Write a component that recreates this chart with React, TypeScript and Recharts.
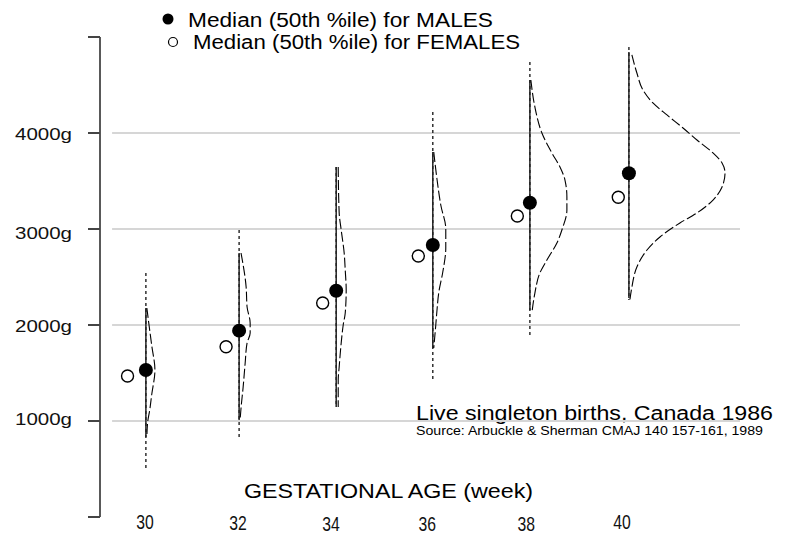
import React from 'react';
import { ComposedChart, Line, Scatter, XAxis, YAxis, ReferenceLine, Legend, Customized } from 'recharts';

// weeks as labelled, and where each week's marks actually sit on the axis
const WEEKS = [30, 32, 34, 36, 38, 40];
const WEEK_X = [30.0, 31.93, 33.94, 35.94, 37.95, 40.0];
const FEMALE_X = [29.62, 31.66, 33.66, 35.64, 37.69, 39.78];

const MALE_MEDIAN = [1531, 1941, 2357, 2833, 3274, 3580];
const FEMALE_MEDIAN = [1469, 1774, 2229, 2719, 3135, 3330];

// solid part of each vertical line, and the dotted full extent
const RANGE_LOW = [833, 1010, 1146, 1760, 2156, 2281];
const RANGE_HIGH = [2177, 2750, 3646, 3802, 4552, 4844];
const OUTER_LOW = [510, 833, 1146, 1406, 1875, 2260];
const OUTER_HIGH = [2542, 2990, 3646, 4219, 4740, 4896];

// birth weight distribution per week: g = weight, d = relative density (week 40 peak = 1)
const DENSITY_30 = [
  { g: 2177, d: 0.01 }, { g: 2021, d: 0.03 }, { g: 1792, d: 0.06 }, { g: 1531, d: 0.094 },
  { g: 1271, d: 0.06 }, { g: 1115, d: 0.04 }, { g: 1000, d: 0.02 }, { g: 833, d: 0.01 },
];
const DENSITY_32 = [
  { g: 2750, d: 0.02 }, { g: 2396, d: 0.073 }, { g: 2188, d: 0.083 }, { g: 2021, d: 0.115 },
  { g: 1917, d: 0.115 }, { g: 1813, d: 0.083 }, { g: 1604, d: 0.063 }, { g: 1354, d: 0.042 },
  { g: 1146, d: 0.021 }, { g: 1010, d: 0.01 },
];
const DENSITY_34 = [
  { g: 3646, d: 0.021 }, { g: 3167, d: 0.031 }, { g: 2990, d: 0.052 }, { g: 2750, d: 0.083 },
  { g: 2573, d: 0.094 }, { g: 2365, d: 0.104 }, { g: 2125, d: 0.094 }, { g: 2000, d: 0.073 },
  { g: 1813, d: 0.052 }, { g: 1563, d: 0.031 }, { g: 1427, d: 0.021 }, { g: 1146, d: 0.021 },
];
const DENSITY_36 = [
  { g: 3802, d: 0.01 }, { g: 3531, d: 0.042 }, { g: 3250, d: 0.083 }, { g: 3000, d: 0.135 },
  { g: 2802, d: 0.135 }, { g: 2552, d: 0.104 }, { g: 2344, d: 0.063 }, { g: 2135, d: 0.042 },
  { g: 2000, d: 0.031 }, { g: 1760, d: 0.01 },
];
const DENSITY_38 = [
  { g: 4552, d: 0.01 }, { g: 4271, d: 0.052 }, { g: 4000, d: 0.125 }, { g: 3792, d: 0.229 },
  { g: 3646, d: 0.313 }, { g: 3510, d: 0.365 }, { g: 3333, d: 0.385 }, { g: 3198, d: 0.385 },
  { g: 2990, d: 0.333 }, { g: 2854, d: 0.281 }, { g: 2677, d: 0.177 }, { g: 2542, d: 0.104 },
  { g: 2333, d: 0.052 }, { g: 2125, d: 0.021 },
];
const DENSITY_40 = [
  { g: 4813, d: 0.031 }, { g: 4625, d: 0.083 }, { g: 4448, d: 0.146 }, { g: 4313, d: 0.25 },
  { g: 4188, d: 0.396 }, { g: 4052, d: 0.563 }, { g: 3927, d: 0.708 }, { g: 3792, d: 0.875 },
  { g: 3688, d: 0.969 }, { g: 3583, d: 1 }, { g: 3438, d: 0.969 }, { g: 3302, d: 0.875 },
  { g: 3167, d: 0.708 }, { g: 3063, d: 0.531 }, { g: 2917, d: 0.323 }, { g: 2781, d: 0.188 },
  { g: 2604, d: 0.083 }, { g: 2396, d: 0.031 }, { g: 2260, d: 0.01 },
];
const DENSITIES = [DENSITY_30, DENSITY_32, DENSITY_34, DENSITY_36, DENSITY_38, DENSITY_40];

const Y_TICKS = [0, 1000, 2000, 3000, 4000, 5000];
const GRID_VALUES = [1000, 2000, 3000, 4000];
const LEGEND_LABELS = ['Median (50th %ile) for MALES', 'Median (50th %ile) for FEMALES'];
const TITLE = 'Live singleton births, Canada 1986';
const SOURCE = 'Source: Arbuckle & Sherman CMAJ 140 157-161, 1989';
const X_TITLE = 'GESTATIONAL AGE (week)';

const FONT = '"Liberation Sans", Arial, Helvetica, sans-serif';
const DENSITY_WIDTH = 1.99; // weeks of horizontal room for a density of 1

const maleData = WEEK_X.map((x, i) => ({ x, g: MALE_MEDIAN[i] }));
const femaleData = FEMALE_X.map((x, i) => ({ x, g: FEMALE_MEDIAN[i] }));

// small hand-placed offsets, the printed labels wander a bit
const X_TICK_SHIFT: Record<number, [number, number]> = {
  30: [-1, 4], 32: [-4.5, 5], 34: [-8, 5.5], 36: [-8.5, 6], 38: [-6, 5.5], 40: [-7, 4],
};
const Y_TICK_SHIFT: Record<number, number> = { 1000: 3.5, 2000: 6.5, 3000: 9.5, 4000: 7 };

const XTick = ({ x, y, payload }: any) => {
  const [dx, dy] = X_TICK_SHIFT[payload.value] ?? [0, 0];
  return (
    <text x={x + dx} y={y + dy} textAnchor="middle" fontSize={21} fontFamily={FONT} fill="#111"
      textLength={17.5} lengthAdjust="spacingAndGlyphs">
      {payload.value}
    </text>
  );
};

const YTick = ({ x, y, payload }: any) => {
  if (!GRID_VALUES.includes(payload.value)) return null;
  return (
    <text x={x - 14} y={y + Y_TICK_SHIFT[payload.value]} textAnchor="end" fontSize={17} fontFamily={FONT}
      fill="#111" textLength={57} lengthAdjust="spacingAndGlyphs">
      {payload.value}g
    </text>
  );
};

const LegendBox = () => (
  <svg width={804} height={56} style={{ display: 'block' }}>
    <circle cx={168} cy={19} r={5.5} fill="#000" />
    <text x={188} y={27} fontSize={20} fontFamily={FONT} fill="#000" textLength={305} lengthAdjust="spacingAndGlyphs">
      {LEGEND_LABELS[0]}
    </text>
    <circle cx={173} cy={42} r={4.5} fill="#fff" stroke="#000" strokeWidth={1.2} />
    <text x={193} y={49} fontSize={20} fontFamily={FONT} fill="#000" textLength={327} lengthAdjust="spacingAndGlyphs">
      {LEGEND_LABELS[1]}
    </text>
  </svg>
);

const Notes = () => (
  <g fontFamily={FONT} fill="#000">
    <text x={416} y={420} fontSize={20} textLength={357} lengthAdjust="spacingAndGlyphs">{TITLE}</text>
    <text x={416} y={435} fontSize={12.5} textLength={347} lengthAdjust="spacingAndGlyphs">{SOURCE}</text>
    <text x={244} y={498} fontSize={20} textLength={289} lengthAdjust="spacingAndGlyphs">{X_TITLE}</text>
  </g>
);

export default function App() {
  return (
    <div style={{ position: 'absolute', left: 0, top: 0, width: 804, height: 535, background: '#fff' }}>
      <ComposedChart width={804} height={535} margin={{ top: 37, right: 64, bottom: 0, left: 0 }}>
        <XAxis
          dataKey="x"
          type="number"
          domain={[29.05, 42.3]}
          ticks={WEEKS}
          allowDataOverflow
          axisLine={false}
          tickLine={false}
          height={18}
          tick={<XTick />}
        />
        <YAxis
          dataKey="g"
          type="number"
          domain={[0, 5000]}
          ticks={Y_TICKS}
          width={100}
          tickSize={12}
          axisLine={{ stroke: '#222', strokeWidth: 1.5 }}
          tickLine={{ stroke: '#444', strokeWidth: 2 }}
          tick={<YTick />}
        />
        {GRID_VALUES.map((v) => (
          <ReferenceLine key={`grid-${v}`} segment={[{ x: 29.3, y: v }, { x: 42.3, y: v }]}
            stroke="#d6d6d6" strokeWidth={2} />
        ))}
        <Legend verticalAlign="middle" align="center" layout="horizontal"
          wrapperStyle={{ top: 0, left: 0, width: 804 }} content={<LegendBox />} />

        {WEEK_X.map((x, i) => (
          <Line key={`outer-${i}`} data={[{ x, g: OUTER_HIGH[i] }, { x, g: OUTER_LOW[i] }]} dataKey="g"
            stroke="#222" strokeWidth={1.4} strokeDasharray="3 3" dot={false} activeDot={false}
            isAnimationActive={false} legendType="none" />
        ))}
        {WEEK_X.map((x, i) => (
          <Line key={`range-${i}`} data={[{ x, g: RANGE_HIGH[i] }, { x, g: RANGE_LOW[i] }]} dataKey="g"
            stroke="#222" strokeWidth={1.5} dot={false} activeDot={false}
            isAnimationActive={false} legendType="none" />
        ))}
        {DENSITIES.map((curve, i) => (
          <Line key={`density-${i}`}
            data={curve.map((p) => ({ x: WEEK_X[i] + p.d * DENSITY_WIDTH, g: p.g }))}
            dataKey="g" type="monotoneY" stroke="#000" strokeWidth={1.1} strokeDasharray="10 3"
            dot={false} activeDot={false} isAnimationActive={false} legendType="none" />
        ))}

        <Scatter data={femaleData} isAnimationActive={false} legendType="none"
          shape={(p: any) => <circle cx={p.cx} cy={p.cy} r={6} fill="#fff" stroke="#000" strokeWidth={1.4} />} />
        <Scatter data={maleData} isAnimationActive={false} legendType="none"
          shape={(p: any) => <circle cx={p.cx} cy={p.cy} r={7} fill="#000" />} />

        <Customized component={<Notes />} />
      </ComposedChart>
    </div>
  );
}
